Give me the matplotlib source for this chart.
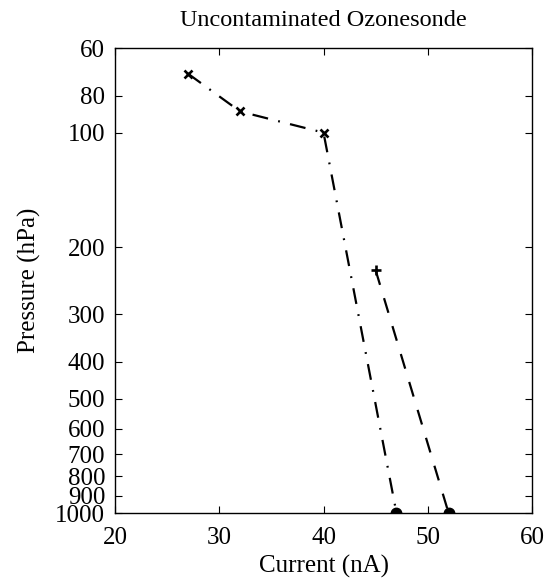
import matplotlib
matplotlib.use("Agg")
import matplotlib.pyplot as plt
from matplotlib.ticker import FixedLocator, NullLocator, FixedFormatter

plt.rcParams['font.family'] = ['Liberation Serif', 'DejaVu Serif']
plt.rcParams['lines.scale_dashes'] = False

# Data
current_a = [27, 32, 40, 47]
pressure_a = [70, 88, 100, 1000]
current_b = [45, 52]
pressure_b = [230, 1000]
yticks = [60, 80, 100, 200, 300, 400, 500, 600, 700, 800, 900, 1000]
xticks = [20, 30, 40, 50, 60]

fig = plt.figure(figsize=(5.53, 5.81), dpi=100)
ax = fig.add_axes([0.208, 0.117, 0.754, 0.800])

ax.plot(current_a, pressure_a, color='black', linestyle=(0, (11.5, 7.5, 1.3, 7.5)), linewidth=1.6)
ax.plot(current_a[:-1], pressure_a[:-1], linestyle='none', marker='x', color='black', markersize=5.5, markeredgewidth=1.9)
ax.plot(current_a[-1:], pressure_a[-1:], linestyle='none', marker='o', color='black', markersize=7.5)

ax.plot(current_b, pressure_b, color='black', linestyle=(0, (11, 10)), linewidth=1.6)
ax.plot(current_b[:1], pressure_b[:1], linestyle='none', marker='+', color='black', markersize=7.5, markeredgewidth=1.9)
ax.plot(current_b[-1:], pressure_b[-1:], linestyle='none', marker='o', color='black', markersize=7.5)

ax.set_yscale('log')
ax.set_ylim(1000, 60)
ax.set_xlim(20, 60)
ax.yaxis.set_major_locator(FixedLocator(yticks))
ax.yaxis.set_major_formatter(FixedFormatter([str(t) for t in yticks]))
ax.yaxis.set_minor_locator(NullLocator())
ax.set_xticks(xticks)

ax.tick_params(direction='in', top=True, right=True, labelsize=18, length=5, width=0.8)
ax.tick_params(axis='y', pad=7)
ax.tick_params(axis='x', pad=10)
for s in ax.spines.values():
    s.set_linewidth(1.0)

ax.set_xlabel('Current (nA)', fontsize=18, labelpad=4)
ax.set_ylabel('Pressure (hPa)', fontsize=18, labelpad=10)
ax.set_title('Uncontaminated Ozonesonde', fontsize=17.5, pad=16)

fig.savefig('out.png', dpi=100)
